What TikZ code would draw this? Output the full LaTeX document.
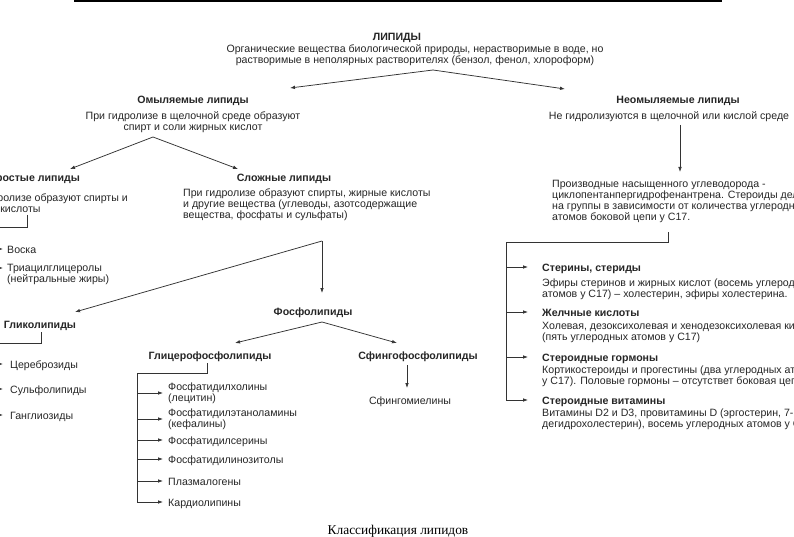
\documentclass[tikz,border=0pt]{standalone}
\usepackage{fontspec}
\setmainfont{Liberation Sans}
\newfontfamily\capfont{Liberation Serif}
\usetikzlibrary{arrows.meta}
\begin{document}
\begin{tikzpicture}[x=1pt,y=-1pt,
  txt/.style={inner sep=0pt,font=\fontsize{10.6}{11}\selectfont,text=black!85},
  bld/.style={txt,font=\fontsize{10.6}{11}\selectfont\bfseries},
  ln/.style={draw=black!80,line width=0.75pt},
  arr/.style={ln,-{Latex[length=5pt,width=3.6pt]}}]
\useasboundingbox (0,0) rectangle (794,537);
\clip (0,0) rectangle (794,537);
\fill[white] (0,0) rectangle (794,537);
% top rule
\coordinate (r1) at (74,1);
\coordinate (r2) at (722,1);
\draw[line width=2pt] (r1) -- (r2);
% root
\node[bld,anchor=base] (lip) at (397,41) {ЛИПИДЫ};
\node[txt,anchor=north,align=center] (lipd) at (415,44) {Органические вещества биологической природы, нерастворимые в воде, но\\растворимые в неполярных растворителях (бензол, фенол, хлороформ)};
\coordinate (a1) at (433,70);
\coordinate (t1) at (290,88);
\coordinate (t2) at (565,89);
\draw[arr] (a1) -- (t1);
\draw[arr] (a1) -- (t2);
% saponifiable
\node[bld,anchor=base] (omyl) at (193,104) {Омыляемые липиды};
\node[txt,anchor=north,align=center] (omyld) at (193,111) {При гидролизе в щелочной среде образуют\\спирт и соли жирных кислот};
% non saponifiable
\node[bld,anchor=base] (neo) at (678,104) {Неомыляемые липиды};
\node[txt,anchor=base] (neod) at (669,120) {Не гидролизуются в щелочной или кислой среде};
\coordinate (n1) at (680,125);
\coordinate (n2) at (680,172);
\draw[arr] (n1) -- (n2);
\node[txt,anchor=north west,align=left] (prod) at (552,180) {Производные насыщенного углеводорода -\\циклопентанпергидрофенантрена. Стероиды делятся\\на группы в зависимости от количества углеродных\\атомов боковой цепи у С17.};
\coordinate (s0) at (668,232);
\coordinate (s1) at (668,242);
\coordinate (s2) at (506,242);
\coordinate (s3) at (506,400);
\draw[ln] (s0) -- (s1) -- (s2) -- (s3);
\foreach \yy/\nm in {267/b1,312/b2,357/b3,400/b4}{
  \coordinate (\nm s) at (506,\yy);
  \coordinate (\nm e) at (528,\yy);
  \draw[arr] (\nm s) -- (\nm e);
}
\node[bld,anchor=base west] (ster) at (542,271) {Стерины, стериды};
\node[txt,anchor=north west,align=left] (sterd) at (542,279) {Эфиры стеринов и жирных кислот (восемь углеродных\\атомов у С17) – холестерин, эфиры холестерина.};
\node[bld,anchor=base west] (zhel) at (542,316) {Желчные кислоты};
\node[txt,anchor=north west,align=left] (zheld) at (542,322) {Холевая, дезоксихолевая и хенодезоксихолевая кислоты\\(пять углеродных атомов у С17)};
\node[bld,anchor=base west] (gorm) at (542,361) {Стероидные гормоны};
\node[txt,anchor=north west,align=left] (gormd) at (542,366) {Кортикостероиды и прогестины (два углеродных атома\\у С17). Половые гормоны – отсутствет боковая цепь};
\node[bld,anchor=base west] (vit) at (542,404) {Стероидные витамины};
\node[txt,anchor=north west,align=left] (vitd) at (542,409) {Витамины D2 и D3, провитамины D (эргостерин, 7-\\дегидрохолестерин), восемь углеродных атомов у С17};
% simple / complex
\coordinate (a2) at (153,137);
\coordinate (t3) at (70,169);
\coordinate (t4) at (238,169);
\draw[arr] (a2) -- (t3);
\draw[arr] (a2) -- (t4);
\node[bld,anchor=base east] (prost) at (80,182) {Простые липиды};
\node[txt,anchor=north east,align=left] (prostd) at (128,194) {При гидролизе образуют спирты и\\жирные кислоты};
\coordinate (p0) at (27,215);
\coordinate (p1) at (27,227);
\coordinate (p2) at (-20,227);
\coordinate (p3) at (-20,268);
\draw[ln] (p0) -- (p1) -- (p2) -- (p3);
\coordinate (v1s) at (-20,249); \coordinate (v1e) at (3,249);
\coordinate (v2s) at (-20,268); \coordinate (v2e) at (3,268);
\draw[arr] (v1s) -- (v1e);
\draw[arr] (v2s) -- (v2e);
\node[txt,anchor=base west] (voska) at (7,253) {Воска};
\node[txt,anchor=north west,align=left] (tag) at (7,264) {Триацилглицеролы\\(нейтральные жиры)};
\node[bld,anchor=base] (slozh) at (284,182) {Сложные липиды};
\node[txt,anchor=north west,align=left] (slozhd) at (183,189) {При гидролизе образуют спирты, жирные кислоты\\и другие вещества (углеводы, азотсодержащие\\вещества, фосфаты и сульфаты)};
\coordinate (a3) at (322,241);
\coordinate (t5) at (75,312);
\coordinate (t6) at (322,293);
\draw[arr] (a3) -- (t5);
\draw[arr] (a3) -- (t6);
% glycolipids
\node[bld,anchor=base] (glyco) at (40,328) {Гликолипиды};
\coordinate (g0) at (41,332);
\coordinate (g1) at (41,343);
\coordinate (g2) at (-20,343);
\coordinate (g3) at (-20,415);
\draw[ln] (g0) -- (g1) -- (g2) -- (g3);
\foreach \yy/\nm in {364/c1,389/c2,415/c3}{
  \coordinate (\nm s) at (-20,\yy);
  \coordinate (\nm e) at (3,\yy);
  \draw[arr] (\nm s) -- (\nm e);
}
\node[txt,anchor=base west] (cer) at (10,368) {Цереброзиды};
\node[txt,anchor=base west] (sulf) at (10,393) {Сульфолипиды};
\node[txt,anchor=base west] (gang) at (10,419) {Ганглиозиды};
% phospholipids
\node[bld,anchor=base] (fosfo) at (313,315) {Фосфолипиды};
\coordinate (a4) at (322,322);
\coordinate (t7) at (235,343);
\coordinate (t8) at (397,343);
\draw[arr] (a4) -- (t7);
\draw[arr] (a4) -- (t8);
\node[bld,anchor=base] (glyc) at (210,359) {Глицерофосфолипиды};
\coordinate (h0) at (207,363);
\coordinate (h1) at (207,373);
\coordinate (h2) at (137,373);
\coordinate (h3) at (137,502);
\draw[ln] (h0) -- (h1) -- (h2) -- (h3);
\foreach \yy/\nm in {393/d1,419/d2,440/d3,459/d4,481/d5,502/d6}{
  \coordinate (\nm s) at (137,\yy);
  \coordinate (\nm e) at (163,\yy);
  \draw[arr] (\nm s) -- (\nm e);
}
\node[txt,anchor=north west,align=left] (fch) at (168,383) {Фосфатидилхолины\\(лецитин)};
\node[txt,anchor=north west,align=left] (fea) at (168,409) {Фосфатидилэтаноламины\\(кефалины)};
\node[txt,anchor=base west] (fser) at (168,444) {Фосфатидилсерины};
\node[txt,anchor=base west] (fino) at (168,463) {Фосфатидилинозитолы};
\node[txt,anchor=base west] (plaz) at (168,485) {Плазмалогены};
\node[txt,anchor=base west] (kard) at (168,506) {Кардиолипины};
\node[bld,anchor=base] (sfin) at (418,359) {Сфингофосфолипиды};
\coordinate (e0) at (407,365);
\coordinate (e1) at (407,388);
\draw[arr] (e0) -- (e1);
\node[txt,anchor=base] (sfm) at (410,404) {Сфингомиелины};
% caption
\node[inner sep=0pt,anchor=base,font=\capfont\fontsize{13.4}{15}\selectfont] (cap) at (398,534) {Классификация липидов};
\end{tikzpicture}
\end{document}
